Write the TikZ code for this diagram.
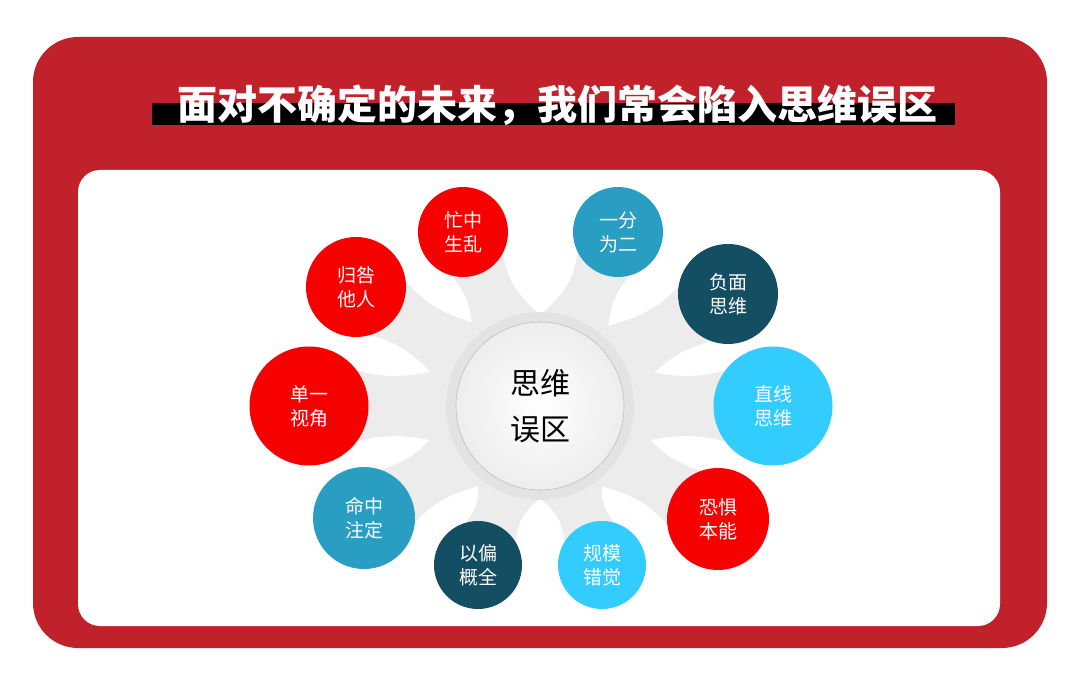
\documentclass[tikz,border=0pt]{standalone}
\usepackage{fontspec}
\setmainfont{Noto Sans CJK SC}
\usetikzlibrary{backgrounds,calc}

\definecolor{framered}{HTML}{C0212B}
\definecolor{bubred}{HTML}{F70000}
\definecolor{bubteal}{HTML}{2A9DC3}
\definecolor{bubdark}{HTML}{144E62}
\definecolor{bubcyan}{HTML}{33CCFF}

\begin{document}
\begin{tikzpicture}[x=1pt,y=-1pt,
  bubble/.style={circle,fill=#1,text=white,align=center,inner sep=0pt,
    font=\fontsize{19}{24}\selectfont},
  spoke/.style={fill=gray!15}]
  \useasboundingbox (0,0) rectangle (1080,676);

  % centre
  \node[circle,fill=gray!22,minimum size=188] (hub) at (540,406) {};
  \node[circle,inner color=white,outer color=gray!14,draw=gray!50,line width=0.6pt,
    minimum size=168,align=center,font=\fontsize{30}{46}\selectfont] (core) at (hub) {思维\\误区};

  % bubbles round the centre
  \node[bubble=bubred,minimum size=90] (mang) at (463,232) {忙中\\生乱};
  \node[bubble=bubteal,minimum size=90] (yifen) at (618,232) {一分\\为二};
  \node[bubble=bubred,minimum size=100] (guijiu) at (356,287) {归咎\\他人};
  \node[bubble=bubdark,minimum size=100] (fumian) at (728,294) {负面\\思维};
  \node[bubble=bubred,minimum size=119] (danyi) at (309,406) {单一\\视角};
  \node[bubble=bubcyan,minimum size=119] (zhixian) at (773,406) {直线\\思维};
  \node[bubble=bubteal,minimum size=102] (mingzhong) at (364,518) {命中\\注定};
  \node[bubble=bubred,minimum size=102] (kongju) at (718,519) {恐惧\\本能};
  \node[bubble=bubdark,minimum size=88] (yipian) at (478,565) {以偏\\概全};
  \node[bubble=bubcyan,minimum size=88] (guimo) at (602,565) {规模\\错觉};

  % title
  \node[anchor=base west,text=white,inner sep=0pt,
    font=\fontsize{40}{42}\selectfont\bfseries] (title) at (177,120) {面对不确定的未来，我们常会陷入思维误区};

  \begin{pgfonlayer}{background}
    % frame
    \fill[framered,rounded corners=45pt] (33,37) rectangle (1047,648);
    \fill[white,rounded corners=22pt] (78,170) rectangle (1000,626);
    \fill[black] (152,103) rectangle (955,125);
    % spokes, narrow in the middle
    \foreach \b/\r in {mang/45,yifen/45,guijiu/50,fumian/50,danyi/59,zhixian/59,
                       mingzhong/51,kongju/51,yipian/44,guimo/44}{
      \pgfmathsetmacro\wm{0.42*\r}
      \pgfmathsetmacro\wb{0.85*\r}
      \fill[spoke] ($(hub)!70pt!(\b)!42pt!90:(\b)$)
        .. controls ($(hub)!0.66!(\b)!\wm pt!90:(\b)$) .. ($(\b)!\wb pt!-90:(hub)$)
        -- ($(\b)!\wb pt!90:(hub)$)
        .. controls ($(hub)!0.66!(\b)!\wm pt!-90:(\b)$) .. ($(hub)!70pt!(\b)!42pt!-90:(\b)$)
        -- cycle;
    }
  \end{pgfonlayer}
\end{tikzpicture}
\end{document}
